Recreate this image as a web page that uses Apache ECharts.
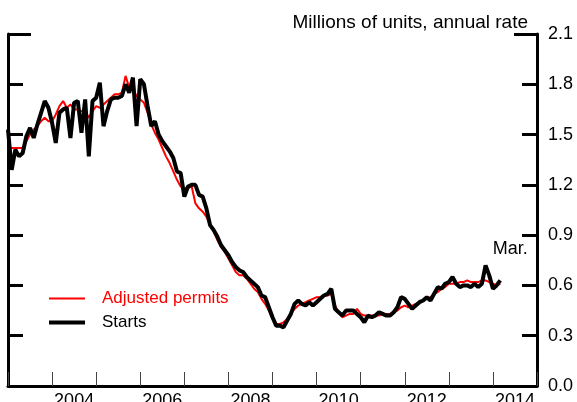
<!DOCTYPE html>
<html>
<head>
<meta charset="utf-8">
<script src="https://cdn.jsdelivr.net/npm/echarts@6/dist/echarts.min.js"></script>
<style>
  html, body { margin: 0; padding: 0; background: #fff; }
  #chart { width: 577px; height: 402px; }
</style>
</head>
<body>
<div id="chart"></div>
<script>
// monthly, Jan 2003 - Mar 2014, millions of units (annual rate)
const startYear = 2003;
const starts = [
  1.53, 1.29, 1.41, 1.37, 1.39, 1.49, 1.54, 1.48, 1.56, 1.63, 1.70, 1.66,
  1.57, 1.45, 1.63, 1.65, 1.66, 1.48, 1.69, 1.70, 1.51, 1.71, 1.37, 1.70,
  1.72, 1.81, 1.55, 1.64, 1.71, 1.72, 1.72, 1.73, 1.80, 1.75, 1.84, 1.55,
  1.83, 1.80, 1.67, 1.55, 1.58, 1.50, 1.46, 1.43, 1.40, 1.36, 1.28, 1.27,
  1.13, 1.19, 1.20, 1.20, 1.14, 1.13, 1.06, 0.96, 0.93, 0.89, 0.84, 0.81,
  0.78, 0.74, 0.71, 0.69, 0.68, 0.65, 0.63, 0.61, 0.59, 0.54, 0.53, 0.47,
  0.41, 0.36, 0.36, 0.35, 0.39, 0.43, 0.49, 0.51, 0.49, 0.48, 0.50, 0.48,
  0.50, 0.52, 0.54, 0.55, 0.58, 0.46, 0.44, 0.42, 0.45, 0.45, 0.45, 0.43,
  0.41, 0.38, 0.42, 0.41, 0.42, 0.44, 0.43, 0.42, 0.42, 0.44, 0.47, 0.53,
  0.52, 0.49, 0.46, 0.48, 0.50, 0.51, 0.53, 0.51, 0.55, 0.59, 0.58, 0.61,
  0.62, 0.65, 0.61, 0.59, 0.60, 0.60, 0.59, 0.61, 0.59, 0.61, 0.72, 0.66,
  0.58, 0.60, 0.63
];
const permits = [
  1.40, 1.42, 1.42, 1.42, 1.42, 1.46, 1.50, 1.53, 1.55, 1.58, 1.60, 1.58,
  1.58, 1.62, 1.67, 1.70, 1.66, 1.68, 1.65, 1.65, 1.64, 1.64, 1.60, 1.64,
  1.67, 1.66, 1.68, 1.70, 1.72, 1.74, 1.74, 1.75, 1.85, 1.78, 1.77, 1.73,
  1.71, 1.69, 1.63, 1.56, 1.51, 1.47, 1.42, 1.37, 1.33, 1.28, 1.23, 1.19,
  1.18, 1.18, 1.19, 1.09, 1.06, 1.04, 1.01, 0.96, 0.92, 0.87, 0.83, 0.80,
  0.76, 0.72, 0.68, 0.66, 0.66, 0.64, 0.61, 0.58, 0.56, 0.52, 0.49, 0.45,
  0.40, 0.37, 0.37, 0.38, 0.40, 0.43, 0.46, 0.48, 0.49, 0.50, 0.51, 0.52,
  0.53, 0.53, 0.54, 0.54, 0.55, 0.48, 0.44, 0.41, 0.42, 0.43, 0.43, 0.46,
  0.43, 0.42, 0.42, 0.42, 0.42, 0.42, 0.43, 0.43, 0.43, 0.44, 0.45, 0.47,
  0.48, 0.47, 0.48, 0.49, 0.50, 0.51, 0.52, 0.53, 0.55, 0.56, 0.58, 0.59,
  0.61, 0.61, 0.61, 0.62, 0.62, 0.63, 0.62, 0.62, 0.62, 0.63, 0.63, 0.62,
  0.61, 0.60, 0.61
];
const yearLabels = [2004, 2006, 2008, 2010, 2012, 2014];

const font = "'Liberation Sans', Arial, sans-serif";
const toPoints = (arr) => arr.map((v, i) => [startYear + i / 12, v]);

const chart = echarts.init(document.getElementById('chart'));

const yTicks = (position, len) => ({
  type: 'value',
  position: position,
  min: 0,
  max: 2.1,
  interval: 0.3,
  splitLine: { show: false },
  axisLine: { show: true, lineStyle: { color: '#000', width: 3 } },
  axisTick: { show: true, inside: true, length: len, lineStyle: { color: '#000', width: 3 } },
  axisLabel: { show: false },
});

// longer tick at the top of both sides
const topTick = (position) => ({
  type: 'value',
  position: position,
  min: 0,
  max: 2.1,
  interval: 2.1,
  splitLine: { show: false },
  axisLine: { show: false },
  axisTick: { show: true, inside: true, length: 23, lineStyle: { color: '#000', width: 3 } },
  axisLabel: { show: false },
});

const rightAxis = yTicks('right', 15);
rightAxis.axisLabel = {
  show: true,
  margin: 11,
  color: '#000',
  fontSize: 18,
  fontFamily: font,
  formatter: (v) => v.toFixed(1),
};

chart.setOption({
  animation: false,
  title: {
    text: 'Millions of units, annual rate',
    right: 44,
    top: 8,
    textStyle: { color: '#000', fontSize: 19, fontWeight: 'normal', fontFamily: font },
  },
  grid: { left: 8, right: 40, top: 34, bottom: 16, outerBoundsMode: 'none' },
  legend: {
    orient: 'vertical',
    left: 42,
    top: 285,
    itemWidth: 36,
    itemHeight: 1,
    itemGap: 7,
    textStyle: { fontSize: 17, fontFamily: font, padding: [0, 0, 0, 12] },
    data: [
      { name: 'Adjusted permits', lineStyle: { width: 2 }, textStyle: { color: '#ff0000' } },
      { name: 'Starts', lineStyle: { width: 4 }, textStyle: { color: '#000' } },
    ],
  },
  xAxis: [
    {
      type: 'value',
      position: 'bottom',
      min: 2003,
      max: 2015,
      interval: 1,
      splitLine: { show: false },
      axisLine: { show: true, onZero: false, lineStyle: { color: '#000', width: 3 } },
      axisTick: { show: true, inside: true, length: 14, lineStyle: { color: '#444', width: 1 } },
      axisLabel: { show: false },
    },
    {
      type: 'value',
      position: 'bottom',
      min: 2003,
      max: 2015,
      interval: 0.5,
      splitLine: { show: false },
      axisLine: { show: false },
      axisTick: { show: false },
      axisLabel: {
        show: true,
        margin: 6,
        color: '#000',
        fontSize: 18,
        fontFamily: font,
        formatter: (v) => {
          const y = Math.floor(v);
          return (v - y === 0.5 && yearLabels.includes(y)) ? String(y) : '';
        },
      },
    },
  ],
  yAxis: [rightAxis, yTicks('left', 15), topTick('right'), topTick('left')],
  series: [
    {
      name: 'Adjusted permits',
      type: 'line',
      data: toPoints(permits),
      showSymbol: false,
      symbol: 'none',
      lineStyle: { color: '#ff0000', width: 2 },
      itemStyle: { color: '#ff0000' },
      z: 2,
    },
    {
      name: 'Starts',
      type: 'line',
      data: toPoints(starts),
      showSymbol: false,
      symbol: 'none',
      lineStyle: { color: '#000', width: 4 },
      itemStyle: { color: '#000' },
      z: 3,
      markPoint: {
        symbol: 'circle',
        symbolSize: 0,
        data: [{ coord: [startYear + (starts.length - 1) / 12, starts[starts.length - 1]] }],
        label: {
          show: true,
          formatter: 'Mar.',
          color: '#000',
          fontSize: 18,
          fontFamily: font,
          offset: [10, -31],
        },
      },
    },
  ],
});
</script>
</body>
</html>
